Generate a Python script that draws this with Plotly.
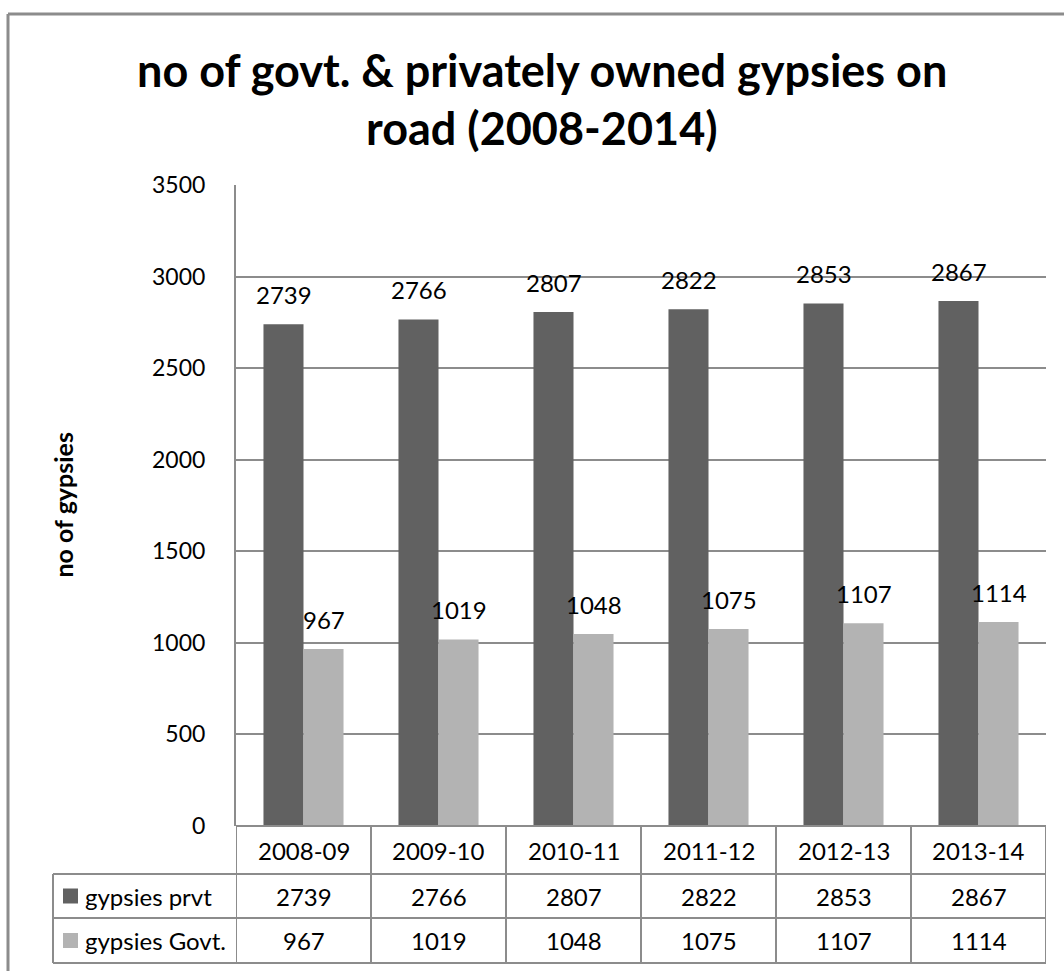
import plotly.graph_objects as go

# Fiscal years and vehicle counts
years = ["2008-09", "2009-10", "2010-11", "2011-12", "2012-13", "2013-14"]
prvt = [2739, 2766, 2807, 2822, 2853, 2867]
govt = [967, 1019, 1048, 1075, 1107, 1114]
series_names = ["gypsies prvt", "gypsies Govt."]
y_ticks = [0, 500, 1000, 1500, 2000, 2500, 3000, 3500]

DARK = "#616161"
LIGHT = "#b3b3b3"
LINE = "#8c8c8c"
FONT = "Lato"
FS = 24

W, H = 1064, 971
L, R, T, B = 236, 18, 185, 145
PW, PH = W - L - R, H - T - B


def px_x(X):
    return (X - L) / PW


def px_y(Y):
    return (H - B - Y) / PH


fig = go.Figure()
fig.add_trace(go.Bar(x=years, y=prvt, name=series_names[0], marker=dict(color=DARK, line=dict(width=0))))
fig.add_trace(go.Bar(x=years, y=govt, name=series_names[1], marker=dict(color=LIGHT, line=dict(width=0))))

shapes = []
annotations = []

# outer chart frame (runs off the right and bottom edges)
shapes.append(dict(type="line", xref="paper", yref="paper", x0=px_x(8), x1=px_x(1100),
                   y0=px_y(14), y1=px_y(14), line=dict(color=LINE, width=3)))
shapes.append(dict(type="line", xref="paper", yref="paper", x0=px_x(8), x1=px_x(8),
                   y0=px_y(14), y1=px_y(1000), line=dict(color=LINE, width=3)))

# data table grid
row_y = [826, 874, 918, 963]
for k, Y in enumerate(row_y):
    x0 = px_x(236) if k == 0 else px_x(53)
    shapes.append(dict(type="line", xref="paper", yref="paper", x0=x0, x1=1.0,
                       y0=px_y(Y), y1=px_y(Y), line=dict(color=LINE, width=2)))
for i in range(len(years) + 1):
    shapes.append(dict(type="line", xref="x", yref="paper", x0=i - 0.5, x1=i - 0.5,
                       y0=px_y(826), y1=px_y(963), line=dict(color=LINE, width=2)))
shapes.append(dict(type="line", xref="paper", yref="paper", x0=px_x(53), x1=px_x(53),
                   y0=px_y(874), y1=px_y(963), line=dict(color=LINE, width=2)))

# legend keys in the table
for Yc, col, name in [(896, DARK, series_names[0]), (940.5, LIGHT, series_names[1])]:
    shapes.append(dict(type="rect", xref="paper", yref="paper", x0=px_x(63), x1=px_x(78),
                       y0=px_y(Yc + 7.5), y1=px_y(Yc - 7.5), fillcolor=col, line=dict(width=0)))
    annotations.append(dict(xref="paper", yref="paper", x=px_x(83), y=px_y(Yc), text=name,
                            xanchor="left", yanchor="middle", showarrow=False,
                            font=dict(family=FONT, size=FS, color="#000")))

# table cells
for i, yr in enumerate(years):
    for Yc, txt in [(850, yr), (896, str(prvt[i])), (940.5, str(govt[i]))]:
        annotations.append(dict(xref="x", yref="paper", x=yr, y=px_y(Yc), text=txt,
                                xanchor="center", yanchor="middle", showarrow=False,
                                font=dict(family=FONT, size=FS, color="#000")))

# value labels above the bars
for i, yr in enumerate(years):
    for val, shift in [(prvt[i], -20), (govt[i], 20)]:
        annotations.append(dict(xref="x", yref="y", x=yr, y=val, text=str(val),
                                xshift=shift, yshift=13, xanchor="center", yanchor="bottom",
                                showarrow=False, font=dict(family=FONT, size=FS, color="#000")))

# chart title
annotations.append(dict(xref="paper", yref="paper", x=px_x(542), y=px_y(70),
                        text="<b>no of govt. &amp; privately owned gypsies on</b>",
                        xanchor="center", yanchor="middle", showarrow=False,
                        font=dict(family=FONT, size=45, color="#000")))
annotations.append(dict(xref="paper", yref="paper", x=px_x(542), y=px_y(128),
                        text="<b>road (2008-2014)</b>",
                        xanchor="center", yanchor="middle", showarrow=False,
                        font=dict(family=FONT, size=45, color="#000")))

# y axis title
annotations.append(dict(xref="paper", yref="paper", x=px_x(62), y=0.5, text="<b>no of gypsies</b>",
                        textangle=-90, xanchor="center", yanchor="middle", showarrow=False,
                        font=dict(family=FONT, size=25, color="#000")))

fig.update_layout(
    width=W, height=H,
    margin=dict(l=L, r=R, t=T, b=B, pad=0),
    paper_bgcolor="white", plot_bgcolor="white",
    barmode="group", bargap=0.407, bargroupgap=0,
    showlegend=False,
    shapes=shapes, annotations=annotations,
    font=dict(family=FONT, color="#000"),
    xaxis=dict(type="category", range=[-0.5, 5.5], showticklabels=False, showgrid=False,
               zeroline=False, showline=False, ticks=""),
    yaxis=dict(range=[0, 3500], tickvals=y_ticks, showgrid=True, gridcolor=LINE, gridwidth=2,
               showline=True, linecolor=LINE, linewidth=2, zeroline=False, ticks="",
               ticklabelstandoff=24, tickfont=dict(family=FONT, size=23, color="#000")),
)

fig.write_html("out.html")
